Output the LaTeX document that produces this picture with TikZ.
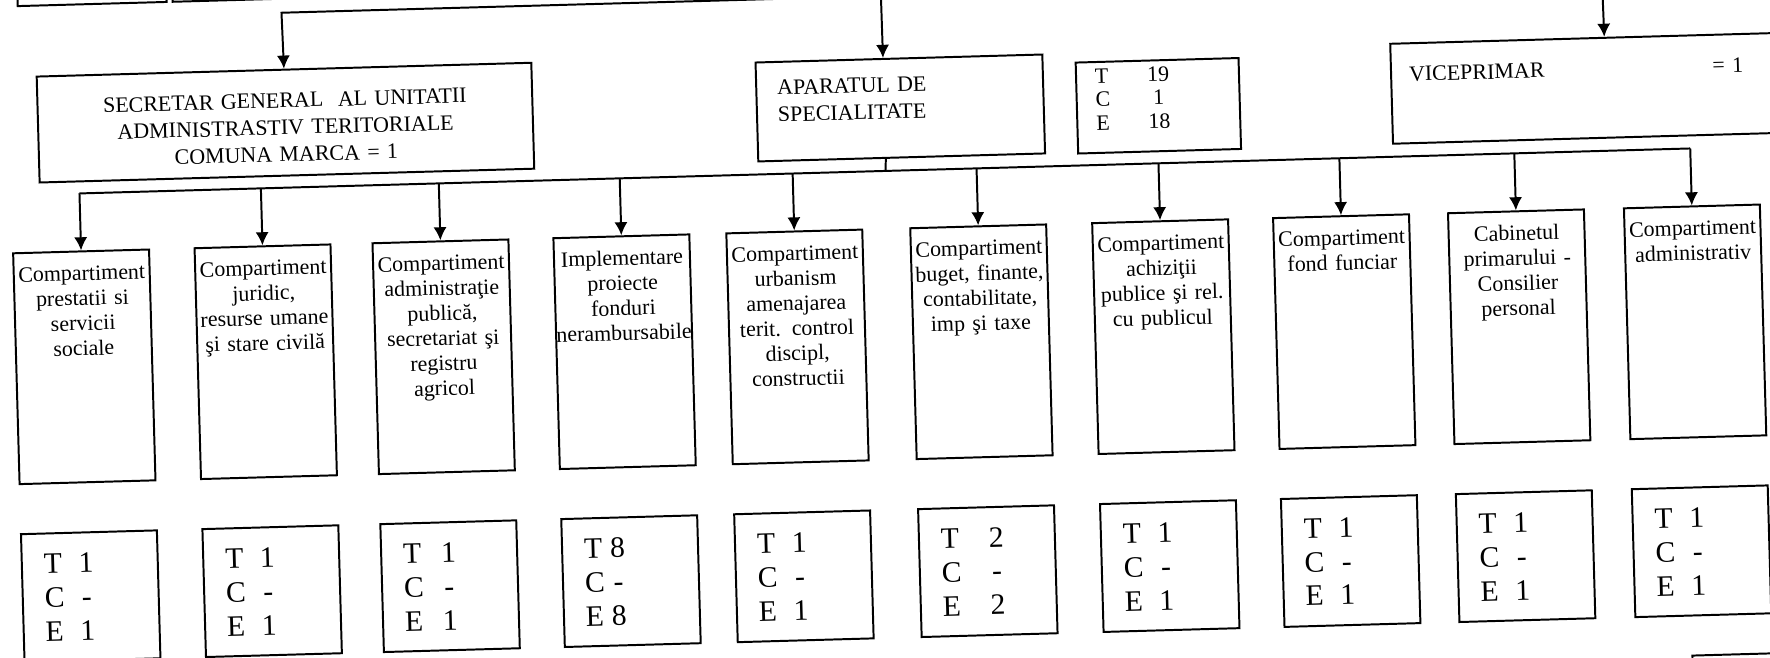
\documentclass[tikz,border=0pt]{standalone}
\usepackage{fontspec}
\setmainfont{Liberation Serif}
\usetikzlibrary{arrows.meta,calc}

% T/C/E staffing rows used in the small boxes
\newcommand{\tcerows}[4][0.24cm]{%
  \begin{tabular}[t]{@{}l@{\hspace{#1}}c@{}}T & #2\\ C & #3\\ E & #4\end{tabular}}

\begin{document}
\begin{tikzpicture}[
        x=0.016cm, y=-0.016cm, line width=0.9pt,
        head/.style={rectangle, draw, anchor=north west, inner sep=0pt,
                     font=\fontsize{10}{12.3}\selectfont},
        comp/.style={rectangle, draw, anchor=north, inner sep=0pt,
                     text width=2.176cm, align=center,
                     text height=0.464cm, text depth=3.232cm,
                     font=\fontsize{10}{11.4}\selectfont},
        staff/.style={rectangle, draw, anchor=north, inner xsep=0.352cm, inner ysep=0pt,
                     text width=1.472cm, align=left,
                     text height=0.64cm, text depth=1.408cm,
                     font=\fontsize{13.5}{15.4}\selectfont},
        arrow/.style={draw, -{Latex[length=2.1mm, width=2.1mm]}}
    ]
    \useasboundingbox (0,0) rectangle (1770,657);
    \clip (0,0) rectangle (1770,657);

    % the scanned chart is slightly tilted
    \begin{scope}[rotate around={1.6:(885,328)}, transform shape]

    % boxes of the level above, cut by the top edge
    \draw (27,-150) rectangle (176,-18);
    \draw (182,-150) rectangle (560,-18);

    % second level
    \node[head, text width=7.92cm, align=center, text height=0.608cm, text depth=1.088cm]
        (secr) at (43,52) {SECRETAR GENERAL~ AL UNITATII\\ ADMINISTRASTIV TERITORIALE\\ COMUNA MARCA = 1};
    \node[head, inner xsep=0.336cm, text width=3.92cm, align=left, text height=0.528cm, text depth=1.056cm]
        (apar) at (762,58) {APARATUL DE\\ SPECIALITATE};
    \node[head, inner xsep=0.304cm, text width=2cm, align=left, text height=0.336cm, text depth=1.12cm,
          font=\fontsize{10}{10.7}\selectfont]
        (total) at (1082,67) {\tcerows[0.6cm]{19}{1}{18}};
    \node[head, inner xsep=0.288cm, text width=5.712cm, align=left, text height=0.608cm, text depth=0.992cm]
        (vice) at (1397,57) {VICEPRIMAR\hspace{2.69cm}= 1};

    % lines coming from above
    \coordinate (upleft) at (800,-4);
    \coordinate (upsecr) at (290.5,-4);
    \coordinate (upapar) at (890,-40);
    \coordinate (upvice) at (1611,-40);
    \draw[arrow] (upleft) -- (upsecr) -- (secr.north);
    \draw[arrow] (upapar) -- ($(apar.north west)!0.445!(apar.north east)$);
    \draw[arrow] (upvice) -- ($(vice.north west)!0.545!(vice.north east)$);

    % compartments
    \node[comp] (c1) at (83.5,228) {Compartiment\\ prestatii si\\ servicii\\ sociale};
    \node[comp] (c2) at (265,228) {Compartiment\\ juridic,\\ resurse umane\\ şi stare civilă};
    \node[comp] (c3) at (443,228) {Compartiment\\ administraţie\\ publică,\\ secretariat şi\\ registru\\ agricol};
    \node[comp] (c4) at (624,228) {Implementare\\ proiecte\\ fonduri\\ nerambursabile};
    \node[comp] (c5) at (797,228) {Compartiment\\ urbanism\\ amenajarea\\ terit. control\\ discipl,\\ constructii};
    \node[comp] (c6) at (981,228) {Compartiment\\ buget, finante,\\ contabilitate,\\ imp şi taxe};
    \node[comp] (c7) at (1163,228) {Compartiment\\ achiziţii\\ publice şi rel.\\ cu publicul};
    \node[comp] (c8) at (1344,228) {Compartiment\\ fond funciar};
    \node[comp] (c9) at (1519,228) {Cabinetul\\ primarului -\\ Consilier\\ personal};
    \node[comp] (c10) at (1695,228) {Compartiment\\ administrativ};

    % staff of each compartment
    \node[staff] (s1) at (83.5,509) {\tcerows{1}{-}{1}};
    \node[staff] (s2) at (265,509) {\tcerows{1}{-}{1}};
    \node[staff] (s3) at (443,509) {\tcerows[0.29cm]{1}{-}{1}};
    \node[staff] (s4) at (624,509) {\tcerows[0.1cm]{8}{-}{8}};
    \node[staff] (s5) at (797,509) {\tcerows{1}{-}{1}};
    \node[staff] (s6) at (981,509) {\tcerows[0.45cm]{2}{-}{2}};
    \node[staff] (s7) at (1163,509) {\tcerows{1}{-}{1}};
    \node[staff] (s8) at (1344,509) {\tcerows{1}{-}{1}};
    \node[staff] (s9) at (1519,509) {\tcerows{1}{-}{1}};
    \node[staff] (s10) at (1695,509) {\tcerows{1}{-}{1}};

    % box cut by the bottom edge
    \draw (1683,678) rectangle (1900,800);

    % bus under the specialised staff
    \foreach \i/\x in {1/83.5, 2/265, 3/443, 4/624, 5/797, 6/981, 7/1163, 8/1344, 9/1519, 10/1695}
        \coordinate (bus\i) at (\x,171);
    \coordinate (busapar) at (890,171);
    \draw ($(apar.south west)!0.445!(apar.south east)$) -- (busapar);
    \draw (bus1) -- (bus10);
    \foreach \i in {1,...,10}
        \draw[arrow] (bus\i) -- (c\i.north);

    \end{scope}
\end{tikzpicture}
\end{document}
